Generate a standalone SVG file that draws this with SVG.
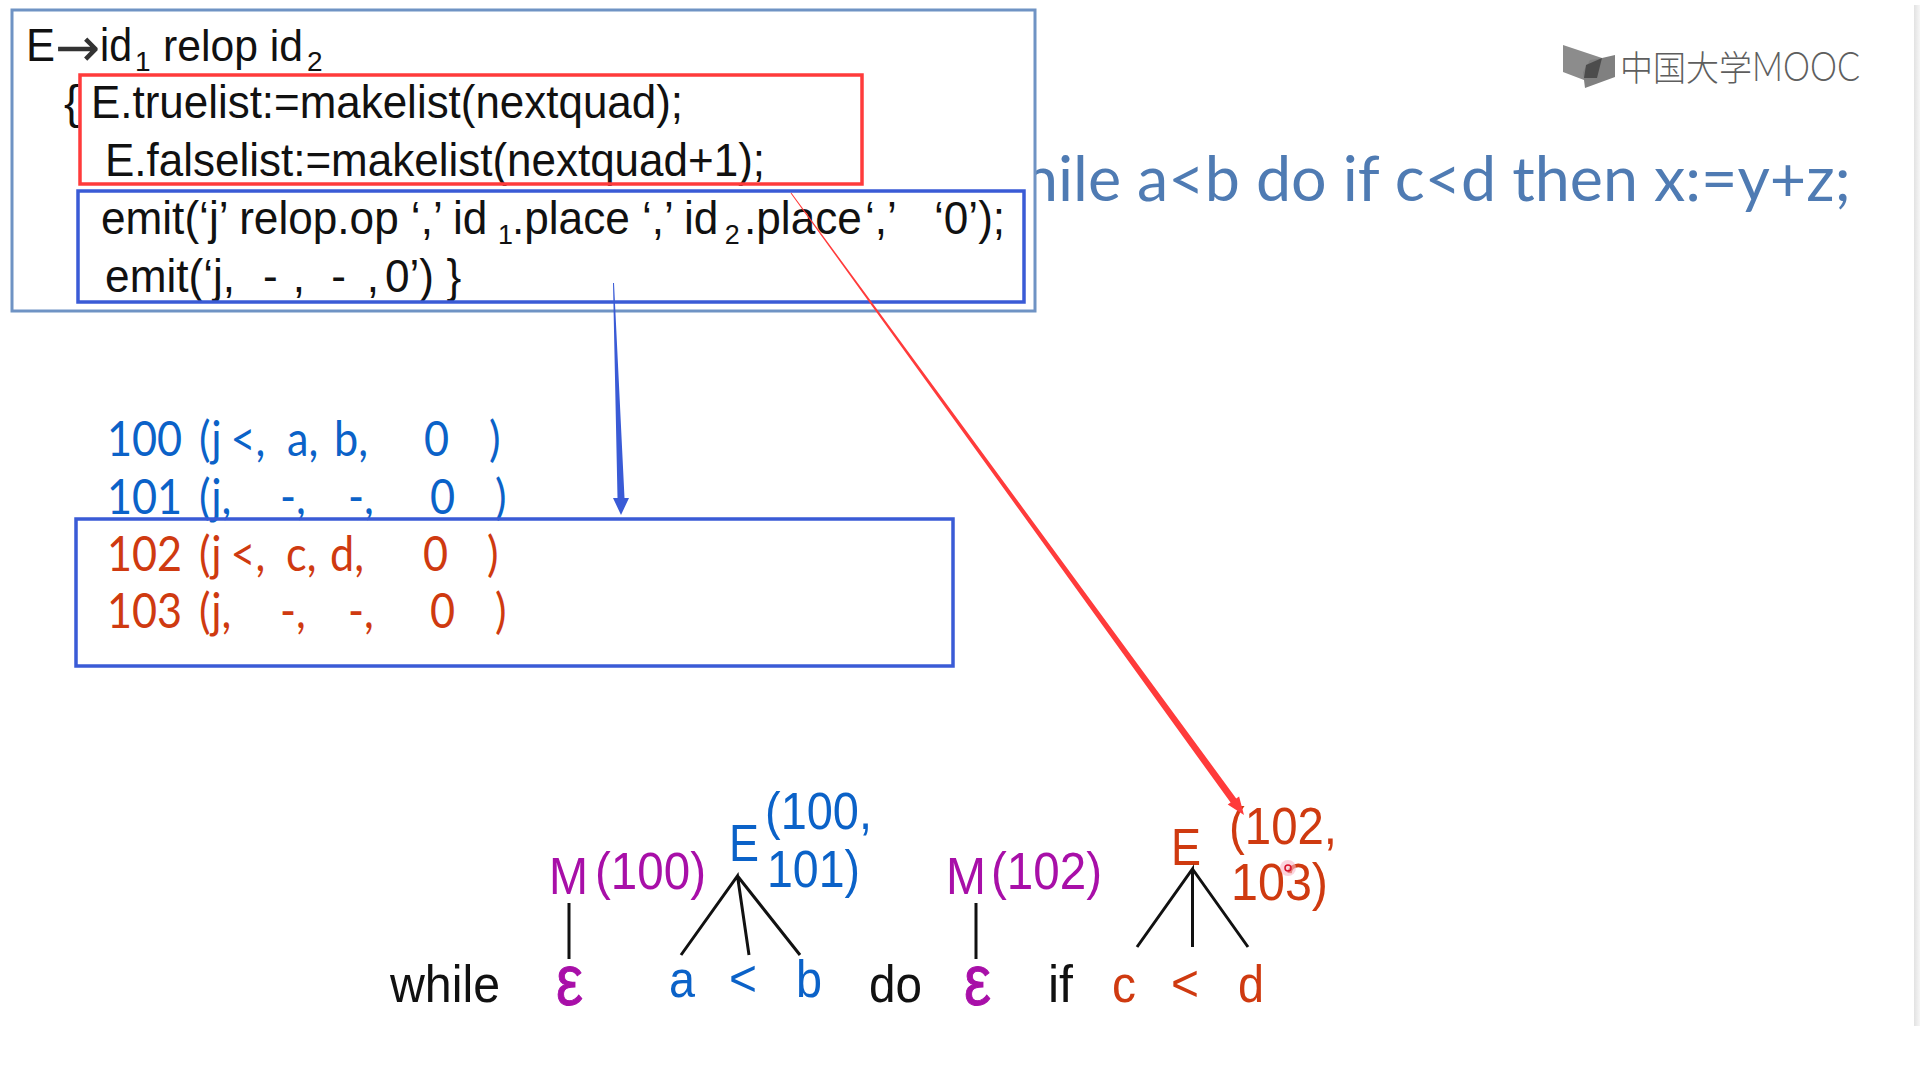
<svg xmlns="http://www.w3.org/2000/svg" width="1920" height="1080" viewBox="0 0 1920 1080">
<style>
.a{font-family:"Liberation Sans",Arial,sans-serif;font-size:46px;fill:#111}
.s{font-size:28px}
.l{font-family:Lato,"Noto Sans",sans-serif;font-size:48px}
.t{font-family:"Liberation Sans",Arial,sans-serif;font-size:52px}
.blue{fill:#0b62c8}.red{fill:#cf3a10}.pur{fill:#a80fa8}.blk{fill:#111}
.box{fill:none;stroke-width:3.5}
.tree{stroke:#111;stroke-width:3;fill:none}
.eps{font-size:72px;stroke:#a80fa8;stroke-width:1}
</style>
<defs><linearGradient id="edge"><stop offset="0" stop-color="#e2e2e2"/><stop offset="1" stop-color="#f6f6f6"/></linearGradient></defs>
<rect width="1920" height="1080" fill="#fff"/>
<rect x="1914" y="5" width="6" height="1021" fill="url(#edge)"/>
<g id="title"><text x="1023" y="201" font-family="Lato,'Noto Sans',sans-serif" font-size="62" fill="#4f7bb3" textLength="828" lengthAdjust="spacingAndGlyphs">hile a&lt;b do if c&lt;d then x:=y+z;</text></g>
<g id="logo">
<path d="M1563 45L1602 58L1584 80L1563 72Z" fill="#8c8c8c"/>
<path d="M1615 55V77L1585 88L1583 72L1590 60L1602 58Z" fill="#808080"/>
<path d="M1602 58L1586 65L1584 78L1597 78Z" fill="#4c4c4c"/>
<text x="1620" y="81" font-family="'Noto Sans CJK SC',sans-serif" font-weight="300" font-size="35" fill="#5e5e5e" textLength="132" lengthAdjust="spacingAndGlyphs">中国大学</text>
<text x="1752" y="81" font-family="Lato,sans-serif" font-weight="300" font-size="42" fill="#5e5e5e" textLength="108" lengthAdjust="spacingAndGlyphs">MOOC</text>
</g>
<g id="rule-box">
<rect x="12" y="10" width="1023" height="301" fill="#fff" stroke="#6f93c4" stroke-width="3"/>
<text class="a" x="26" y="61" textLength="29" lengthAdjust="spacingAndGlyphs">E</text>
<text x="55" y="66" font-family="'DejaVu Sans',sans-serif" font-size="54" fill="#333">→</text>
<text class="a" x="100" y="61" textLength="32" lengthAdjust="spacingAndGlyphs">id</text>
<text class="a s" x="135" y="71">1</text>
<text class="a" x="163" y="61" style="font-size:44px" textLength="140" lengthAdjust="spacingAndGlyphs">relop id</text>
<text class="a s" x="307" y="71">2</text>
<text class="a" x="64" y="118">{</text>
<text class="a" x="91" y="118" textLength="592" lengthAdjust="spacingAndGlyphs">E.truelist:=makelist(nextquad);</text>
<text class="a" x="105" y="176" textLength="660" lengthAdjust="spacingAndGlyphs">E.falselist:=makelist(nextquad+1);</text>
<text class="a" transform="scale(.96 1)" y="234"><tspan x="105.200">emit(‘j’ relop.op</tspan><tspan x="428">‘,’</tspan><tspan x="471.900">id</tspan><tspan class="s" x="518.800" dy="10">1</tspan><tspan x="533.300" dy="-10">.place</tspan><tspan x="668.800">‘,’</tspan><tspan x="712.500">id</tspan><tspan class="s" x="755" dy="10">2</tspan><tspan x="775" dy="-10">.place</tspan><tspan x="901">‘,’</tspan><tspan x="972.900">‘0’);</tspan></text>
<text class="a" transform="scale(.96 1)" y="292"><tspan x="109.500">emit(‘j,</tspan><tspan x="274">-</tspan><tspan x="305">,</tspan><tspan x="345">-</tspan><tspan x="382">,</tspan><tspan x="401">0’)</tspan><tspan x="465">}</tspan></text>
</g>
<g id="code-list">
<text class="l blue" transform="scale(.9 1)" y="456"><tspan x="118.900">100</tspan><tspan x="221">(j</tspan><tspan x="256">&lt;,</tspan><tspan x="318.900">a,</tspan><tspan x="371.100">b,</tspan><tspan x="471.100">0</tspan><tspan x="543.300">)</tspan></text>
<text class="l blue" transform="scale(.9 1)" y="514"><tspan x="118.900">101</tspan><tspan x="221">(j,</tspan><tspan x="311">-,</tspan><tspan x="386.700">-,</tspan><tspan x="477.800">0</tspan><tspan x="550">)</tspan></text>
<text class="l red" transform="scale(.9 1)" y="571"><tspan x="118.900">102</tspan><tspan x="221">(j</tspan><tspan x="256">&lt;,</tspan><tspan x="317.800">c,</tspan><tspan x="366.700">d,</tspan><tspan x="470">0</tspan><tspan x="541.100">)</tspan></text>
<text class="l red" transform="scale(.9 1)" y="628"><tspan x="118.900">103</tspan><tspan x="221">(j,</tspan><tspan x="311">-,</tspan><tspan x="386.700">-,</tspan><tspan x="477.800">0</tspan><tspan x="550">)</tspan></text>
</g>
<g id="boxes">
<rect id="box-true-false" class="box" x="80" y="75" width="782" height="109" stroke="#ff3b3b"/>
<rect id="box-emit" class="box" x="78" y="191" width="946" height="111" stroke="#3a5bd6"/>
<rect id="box-code" class="box" x="76" y="519" width="877" height="147" stroke="#3a5bd6"/>
</g>
<g id="tree-left">
<text class="t pur" x="549" y="894" textLength="39" lengthAdjust="spacingAndGlyphs">M</text>
<text class="t pur" x="595" y="889" textLength="111" lengthAdjust="spacingAndGlyphs">(100)</text>
<text class="t blue" x="729" y="861" textLength="30" lengthAdjust="spacingAndGlyphs">E</text>
<text class="t blue" x="765" y="829" textLength="107" lengthAdjust="spacingAndGlyphs">(100,</text>
<text class="t blue" x="767" y="887" textLength="93" lengthAdjust="spacingAndGlyphs">101)</text>
<path class="tree" d="M681 955L737.500 876L749 955M737.500 876L800 955M569 903V959"/>
<text class="t blk" x="390" y="1002" textLength="110" lengthAdjust="spacingAndGlyphs">while</text>
<text class="t pur eps" x="556" y="1005" textLength="27" lengthAdjust="spacingAndGlyphs">ε</text>
<text class="t blue" x="669" y="997" textLength="26" lengthAdjust="spacingAndGlyphs">a</text>
<text class="t blue" x="729" y="996" textLength="28" lengthAdjust="spacingAndGlyphs">&lt;</text>
<text class="t blue" x="796" y="997" textLength="26" lengthAdjust="spacingAndGlyphs">b</text>
</g>
<g id="tree-right">
<text class="t pur" x="946" y="894" textLength="40" lengthAdjust="spacingAndGlyphs">M</text>
<text class="t pur" x="991" y="889" textLength="111" lengthAdjust="spacingAndGlyphs">(102)</text>
<text class="t red" x="1171" y="865" textLength="30" lengthAdjust="spacingAndGlyphs">E</text>
<text class="t red" x="1229" y="844" textLength="108" lengthAdjust="spacingAndGlyphs">(102,</text>
<text class="t red" x="1231" y="900" textLength="97" lengthAdjust="spacingAndGlyphs">103)</text>
<path class="tree" d="M1137 947L1192.500 869L1192.500 947M1192.500 869L1248 947M976 903V959"/>
<text class="t blk" x="869" y="1002" textLength="53" lengthAdjust="spacingAndGlyphs">do</text>
<text class="t pur eps" x="964" y="1005" textLength="27" lengthAdjust="spacingAndGlyphs">ε</text>
<text class="t blk" x="1048" y="1002" textLength="25" lengthAdjust="spacingAndGlyphs">if</text>
<text class="t red" x="1112" y="1002" textLength="24" lengthAdjust="spacingAndGlyphs">c</text>
<text class="t red" x="1171" y="1001" textLength="28" lengthAdjust="spacingAndGlyphs">&lt;</text>
<text class="t red" x="1238" y="1002" textLength="26" lengthAdjust="spacingAndGlyphs">d</text>
<circle cx="1288" cy="868" r="8" fill="#f9b8c6" opacity=".6"/><circle cx="1288" cy="868" r="3" fill="none" stroke="#d8102a" stroke-width="1.500"/>
</g>
<g id="connectors">
<path d="M613 283L614 283L624.500 498L629 498L621 515L613 498L617.500 498Z" fill="#3a5bd6"/>
<path d="M790.600 193.300L791.400 192.700L1236.200 798.400L1239.100 796.400L1244 815L1227.700 804.600L1230.600 802.600Z" fill="#ff3b3b"/>
</g>
</svg>
